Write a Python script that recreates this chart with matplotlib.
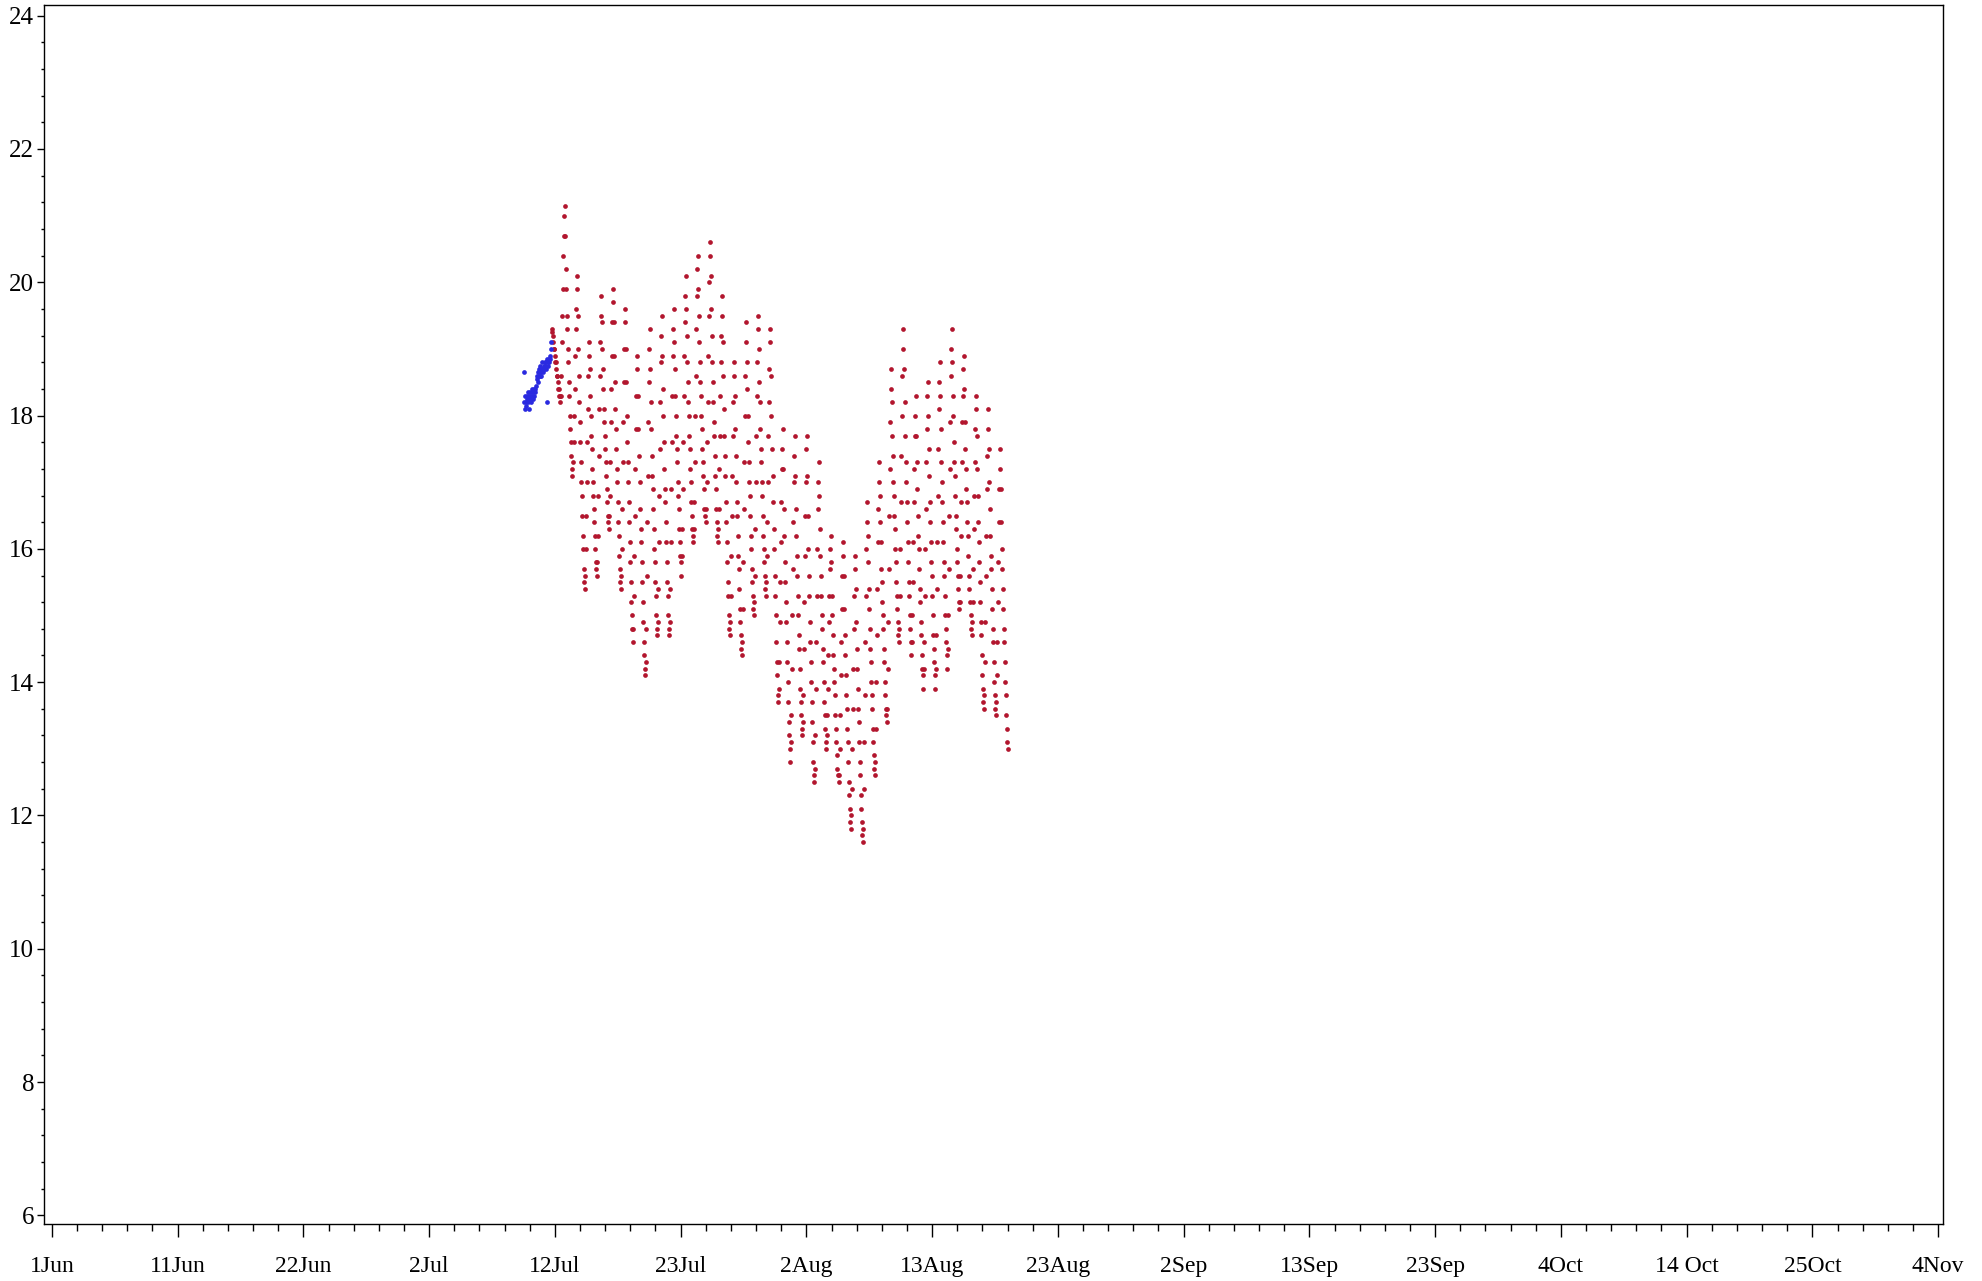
import numpy as np
import matplotlib.pyplot as plt
from matplotlib.ticker import FixedLocator, MultipleLocator

plt.rcParams['font.family'] = ['Liberation Serif', 'DejaVu Serif']

# x is day of year (1 Jun = 152), readings are hourly
blue_start = 191.04
blue_temp = [
    18.65, 18.2, 18.1, 18.3, 18.2, 18.15, 18.3, 18.25, 18.35, 18.2, 18.3, 18.1, 18.25,
    18.35, 18.3, 18.2, 18.4, 18.3, 18.35, 18.25, 18.4, 18.3, 18.35, 18.4, 18.45,
    18.55, 18.6, 18.5, 18.65, 18.6, 18.7, 18.6, 18.75, 18.65, 18.6, 18.7, 18.8, 18.7,
    18.65, 18.75, 18.7, 18.8, 18.75, 18.7, 18.8, 18.85, 18.2, 18.8, 18.75, 18.85, 18.8,
    18.9, 18.85, 19.0, 19.1,
]

red_start = 193.35
red_temp = [
    19.3, 19.25, 19.2, 19.1, 19.0, 19.0, 18.9, 18.8, 18.8, 18.7, 18.6, 18.6, 18.5,
    18.4, 18.4, 18.3, 18.3, 18.2, 18.3, 18.6, 19.1, 19.5, 19.9, 20.4, 20.7, 21.0,
    21.15, 20.7, 20.2, 19.9, 19.5, 19.3, 19.0, 18.8, 18.5, 18.3, 18.0, 17.8, 17.6, 17.4, 17.2, 17.1, 17.3, 17.6, 18.0, 18.4, 18.9, 19.3, 19.6, 19.9,
    20.1, 19.5, 19.0, 18.6, 18.2, 17.9, 17.6, 17.3, 17.0, 16.8, 16.5, 16.2, 16.0, 15.7, 15.5, 15.4, 15.6, 16.0, 16.5, 17.0, 17.6, 18.1, 18.6, 18.9,
    19.1, 18.7, 18.3, 18.0, 17.7, 17.5, 17.2, 17.0, 16.8, 16.6, 16.4, 16.2, 16.0, 15.8, 15.7, 15.6, 15.8, 16.2, 16.8, 17.4, 18.1, 18.6, 19.1, 19.5,
    19.8, 19.4, 19.0, 18.7, 18.4, 18.1, 17.9, 17.7, 17.5, 17.3, 17.1, 16.9, 16.7, 16.5, 16.4, 16.3, 16.5, 16.8, 17.3, 17.9, 18.4, 18.9, 19.4, 19.7,
    19.9, 19.4, 18.9, 18.5, 18.1, 17.8, 17.5, 17.2, 17.0, 16.7, 16.4, 16.2, 15.9, 15.7, 15.5, 15.4, 15.6, 16.0, 16.6, 17.3, 17.9, 18.5, 19.0, 19.4,
    19.6, 19.0, 18.5, 18.0, 17.6, 17.3, 17.0, 16.7, 16.4, 16.1, 15.8, 15.5, 15.2, 15.0, 14.8, 14.6, 14.8, 15.3, 15.9, 16.5, 17.2, 17.8, 18.3, 18.7,
    18.9, 18.3, 17.8, 17.4, 17.0, 16.6, 16.3, 16.1, 15.8, 15.5, 15.2, 14.9, 14.6, 14.4, 14.2, 14.1, 14.3, 14.8, 15.6, 16.4, 17.1, 17.9, 18.5, 19.0,
    19.3, 18.7, 18.2, 17.8, 17.4, 17.1, 16.9, 16.6, 16.3, 16.0, 15.8, 15.5, 15.3, 15.0, 14.8, 14.7, 14.9, 15.4, 16.1, 16.8, 17.5, 18.2, 18.8, 19.2,
    19.5, 18.9, 18.4, 18.0, 17.6, 17.2, 16.9, 16.7, 16.4, 16.1, 15.8, 15.5, 15.3, 15.0, 14.8, 14.7, 14.9, 15.4, 16.1, 16.9, 17.6, 18.3, 18.9, 19.3,
    19.6, 19.1, 18.7, 18.3, 18.0, 17.7, 17.5, 17.3, 17.0, 16.8, 16.6, 16.3, 16.1, 15.9, 15.8, 15.6, 15.9, 16.3, 16.9, 17.6, 18.3, 18.9, 19.4, 19.8,
    20.1, 19.6, 19.2, 18.8, 18.5, 18.2, 18.0, 17.7, 17.5, 17.2, 17.0, 16.7, 16.5, 16.3, 16.2, 16.1, 16.3, 16.7, 17.3, 18.0, 18.6, 19.3, 19.8, 20.2,
    20.4, 19.9, 19.5, 19.1, 18.8, 18.5, 18.3, 18.0, 17.8, 17.5, 17.3, 17.1, 16.9, 16.6, 16.5, 16.4, 16.6, 17.0, 17.6, 18.2, 18.9, 19.5, 20.0, 20.4,
    20.6, 20.1, 19.6, 19.2, 18.8, 18.5, 18.2, 17.9, 17.7, 17.4, 17.1, 16.9, 16.6, 16.4, 16.2, 16.1, 16.3, 16.6, 17.2, 17.7, 18.3, 18.8, 19.2, 19.5,
    19.8, 19.1, 18.6, 18.1, 17.7, 17.4, 17.1, 16.7, 16.4, 16.1, 15.8, 15.5, 15.3, 15.0, 14.8, 14.7, 14.9, 15.3, 15.9, 16.5, 17.1, 17.7, 18.2, 18.6,
    18.8, 18.3, 17.8, 17.4, 17.0, 16.7, 16.5, 16.2, 15.9, 15.7, 15.4, 15.1, 14.9, 14.7, 14.5, 14.4, 14.6, 15.1, 15.8, 16.6, 17.3, 18.0, 18.6, 19.1,
    19.4, 18.8, 18.4, 18.0, 17.6, 17.3, 17.0, 16.8, 16.5, 16.2, 16.0, 15.7, 15.5, 15.3, 15.1, 15.0, 15.2, 15.6, 16.3, 17.0, 17.7, 18.3, 18.8, 19.3,
    19.5, 19.0, 18.5, 18.2, 17.8, 17.5, 17.3, 17.0, 16.8, 16.5, 16.2, 16.0, 15.8, 15.6, 15.4, 15.3, 15.5, 15.9, 16.4, 17.0, 17.7, 18.2, 18.7, 19.1,
    19.3, 18.6, 18.0, 17.5, 17.1, 16.7, 16.3, 16.0, 15.6, 15.3, 15.0, 14.6, 14.3, 14.1, 13.8, 13.7, 13.9, 14.3, 14.9, 15.5, 16.1, 16.7, 17.2, 17.5,
    17.8, 17.2, 16.6, 16.2, 15.8, 15.5, 15.2, 14.9, 14.6, 14.3, 14.0, 13.7, 13.4, 13.2, 13.0, 12.8, 13.1, 13.5, 14.2, 15.0, 15.7, 16.4, 17.0, 17.4,
    17.7, 17.1, 16.6, 16.2, 15.9, 15.6, 15.3, 15.0, 14.7, 14.5, 14.2, 13.9, 13.7, 13.5, 13.3, 13.2, 13.4, 13.8, 14.5, 15.2, 15.9, 16.5, 17.0, 17.5,
    17.7, 17.1, 16.5, 16.0, 15.6, 15.3, 14.9, 14.6, 14.3, 14.0, 13.7, 13.4, 13.1, 12.8, 12.6, 12.5, 12.7, 13.2, 13.9, 14.6, 15.3, 16.0, 16.6, 17.0,
    17.3, 16.8, 16.3, 15.9, 15.6, 15.3, 15.0, 14.8, 14.5, 14.3, 14.0, 13.7, 13.5, 13.3, 13.1, 13.0, 13.2, 13.5, 13.9, 14.4, 14.9, 15.3, 15.7, 16.0,
    16.2, 15.8, 15.3, 15.0, 14.7, 14.4, 14.2, 14.0, 13.8, 13.5, 13.3, 13.1, 12.9, 12.7, 12.6, 12.5, 12.6, 13.0, 13.5, 14.1, 14.6, 15.1, 15.6, 15.9,
    16.1, 15.6, 15.1, 14.7, 14.4, 14.1, 13.8, 13.6, 13.3, 13.1, 12.8, 12.5, 12.3, 12.1, 11.9, 11.8, 12.0, 12.4, 13.0, 13.6, 14.2, 14.8, 15.3, 15.7,
    15.9, 15.4, 14.9, 14.5, 14.2, 13.9, 13.6, 13.4, 13.1, 12.8, 12.6, 12.3, 12.1, 11.9, 11.7, 11.6, 11.8, 12.4, 13.1, 13.8, 14.6, 15.3, 16.0, 16.4,
    16.7, 16.2, 15.8, 15.4, 15.1, 14.8, 14.5, 14.3, 14.0, 13.8, 13.6, 13.3, 13.1, 12.9, 12.7, 12.6, 12.8, 13.3, 14.0, 14.7, 15.4, 16.1, 16.6, 17.0,
    17.3, 16.8, 16.4, 16.1, 15.7, 15.5, 15.2, 15.0, 14.8, 14.5, 14.3, 14.0, 13.8, 13.6, 13.5, 13.4, 13.6, 14.2, 14.9, 15.7, 16.5, 17.2, 17.9, 18.4,
    18.7, 18.2, 17.7, 17.4, 17.0, 16.8, 16.5, 16.3, 16.0, 15.8, 15.5, 15.3, 15.1, 14.9, 14.7, 14.6, 14.8, 15.3, 16.0, 16.7, 17.4, 18.0, 18.6, 19.0,
    19.3, 18.7, 18.2, 17.7, 17.3, 17.0, 16.7, 16.4, 16.1, 15.8, 15.5, 15.3, 15.0, 14.8, 14.6, 14.4, 14.6, 15.0, 15.5, 16.1, 16.7, 17.2, 17.7, 18.0,
    18.3, 17.7, 17.3, 16.9, 16.5, 16.2, 16.0, 15.7, 15.4, 15.2, 14.9, 14.7, 14.4, 14.2, 14.1, 13.9, 14.2, 14.6, 15.3, 16.0, 16.6, 17.3, 17.8, 18.3,
    18.5, 18.0, 17.5, 17.1, 16.7, 16.4, 16.1, 15.8, 15.6, 15.3, 15.0, 14.7, 14.5, 14.3, 14.1, 13.9, 14.2, 14.7, 15.4, 16.1, 16.8, 17.5, 18.1, 18.5,
    18.8, 18.3, 17.8, 17.3, 17.0, 16.7, 16.4, 16.1, 15.8, 15.6, 15.3, 15.0, 14.8, 14.6, 14.4, 14.2, 14.5, 15.0, 15.7, 16.5, 17.2, 17.9, 18.6, 19.0,
    19.3, 18.8, 18.3, 18.0, 17.6, 17.3, 17.1, 16.8, 16.5, 16.3, 16.0, 15.8, 15.6, 15.4, 15.2, 15.1, 15.2, 15.6, 16.2, 16.7, 17.3, 17.9, 18.3, 18.7,
    18.9, 18.4, 17.9, 17.5, 17.2, 16.9, 16.7, 16.4, 16.2, 15.9, 15.6, 15.4, 15.2, 15.0, 14.8, 14.7, 14.9, 15.2, 15.7, 16.3, 16.8, 17.3, 17.8, 18.1,
    18.3, 17.7, 17.2, 16.8, 16.4, 16.1, 15.8, 15.5, 15.2, 14.9, 14.7, 14.4, 14.1, 13.9, 13.7, 13.6, 13.8, 14.3, 14.9, 15.6, 16.2, 16.9, 17.4, 17.8,
    18.1, 17.5, 17.0, 16.6, 16.2, 15.9, 15.7, 15.4, 15.1, 14.8, 14.6, 14.3, 14.0, 13.8, 13.6, 13.5, 13.7, 14.1, 14.6, 15.2, 15.8, 16.4, 16.9, 17.2,
    17.5, 16.9, 16.4, 16.0, 15.7, 15.4, 15.1, 14.8, 14.6, 14.3, 14.0, 13.8, 13.5, 13.3, 13.1, 13.0,
]

tick_labels = ['1Jun', '11Jun', '22Jun', '2Jul', '12Jul', '23Jul', '2Aug', '13Aug',
               '23Aug', '2Sep', '13Sep', '23Sep', '4Oct', '14 Oct', '25Oct', '4Nov']

blue_t = blue_start + np.arange(len(blue_temp)) / 24
red_t = red_start + np.arange(len(red_temp)) / 24

fig = plt.figure(figsize=(19.82, 12.81), dpi=100)
ax = fig.add_axes([0.0222, 0.0445, 0.9581, 0.9516])

ax.plot(red_t, red_temp, 'o', color='#B2162E', markersize=3.4, markeredgewidth=0)
ax.plot(blue_t, blue_temp, 'o', color='#2A2AE0', markersize=3.4, markeredgewidth=0)

ax.set_xlim(151.35, 308.4)
ax.set_ylim(5.87, 24.16)

major_x = np.linspace(152, 308, 16)
ax.set_xticks(major_x, tick_labels)
ax.xaxis.set_minor_locator(FixedLocator(np.linspace(152, 308, 76)))
ax.set_yticks(range(6, 25, 2))
ax.yaxis.set_minor_locator(MultipleLocator(0.4))

ax.tick_params(axis='x', which='major', length=9, width=1, labelsize=17, pad=14)
ax.tick_params(axis='x', which='minor', length=5, width=1)
ax.tick_params(axis='y', which='major', length=5, width=1, labelsize=18, pad=2)
ax.tick_params(axis='y', which='minor', length=2.5, width=1)

for s in ax.spines.values():
    s.set_linewidth(1.0)

fig.savefig('out.png', dpi=100)
